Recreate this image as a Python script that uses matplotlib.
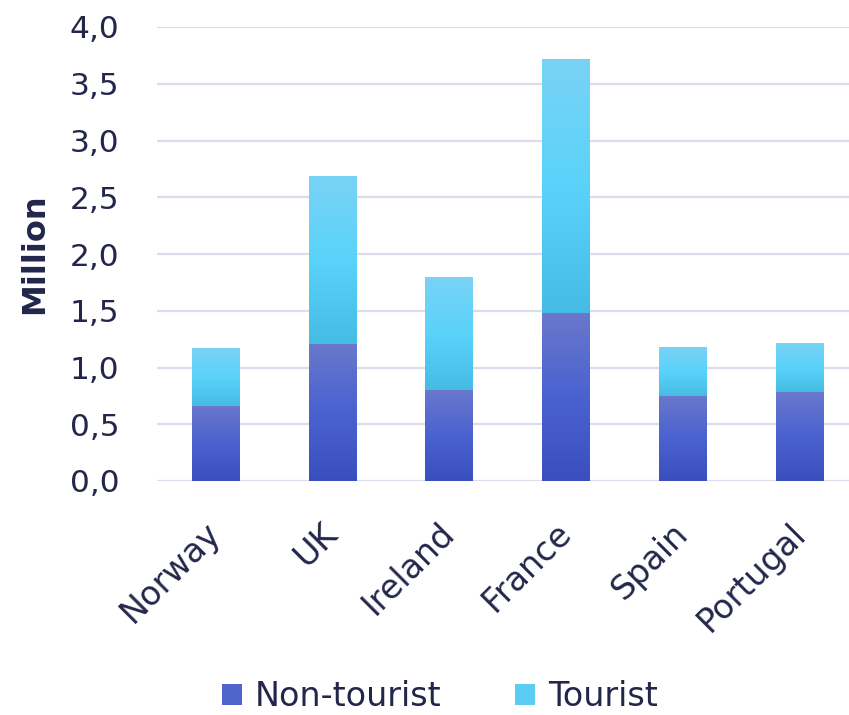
import matplotlib.pyplot as plt
import numpy as np
from matplotlib.colors import LinearSegmentedColormap
from matplotlib.patches import Patch

plt.rcParams['font.family'] = ['DejaVu Sans']

countries = ["Norway", "UK", "Ireland", "France", "Spain", "Portugal"]
non_tourist = [0.66, 1.21, 0.80, 1.48, 0.75, 0.78]
tourist = [0.51, 1.48, 1.00, 2.24, 0.43, 0.44]
yticks = [0.0, 0.5, 1.0, 1.5, 2.0, 2.5, 3.0, 3.5, 4.0]

text_col = '#22264a'
cmap_non = LinearSegmentedColormap.from_list('non', ['#3a4fbd', '#4a62d0', '#6a78cc'])
cmap_tour = LinearSegmentedColormap.from_list('tour', ['#44bce3', '#5ad3fa', '#79d2f5'])

fig = plt.figure(figsize=(8.49, 7.15), dpi=100)
ax = fig.add_axes([157 / 849, 1 - 481 / 715, 692 / 849, 454 / 715])

x = np.arange(len(countries))
width = 0.41
bars1 = ax.bar(x, non_tourist, width, color='none', zorder=3)
bars2 = ax.bar(x, tourist, width, bottom=non_tourist, color='none', zorder=3)

# gradient fill inside each bar segment
grad = np.linspace(0, 1, 256).reshape(-1, 1)
for bars, cmap in ((bars1, cmap_non), (bars2, cmap_tour)):
    for b in bars:
        x0, y0 = b.get_x(), b.get_y()
        w, h = b.get_width(), b.get_height()
        im = ax.imshow(grad, cmap=cmap, aspect='auto', origin='lower',
                       extent=(x0, x0 + w, y0, y0 + h), zorder=3)
        im.set_clip_path(b)

ax.set_xlim(-0.5, 5.415)
ax.set_ylim(0, 4.0)
ax.set_yticks(yticks)
ax.set_yticklabels([f"{v:.1f}".replace('.', ',') for v in yticks],
                   fontsize=22.5, color=text_col)
ax.set_xticks(x)
ax.set_xticklabels(countries, rotation=45, ha='right', va='center',
                   rotation_mode='anchor', fontsize=24, color=text_col)
ax.tick_params(axis='both', length=0)
ax.tick_params(axis='y', pad=27)
ax.tick_params(axis='x', pad=34)
ax.grid(axis='y', color='#dcdcec', linewidth=1.6, zorder=0)
for s in ax.spines.values():
    s.set_visible(False)
ax.set_ylabel('Million', fontsize=23, fontweight='bold', color=text_col, labelpad=14)

handles = [Patch(facecolor='#4f63cc', label='Non-tourist'),
           Patch(facecolor='#5ccdf2', label='Tourist')]
fig.legend(handles=handles, loc='center', bbox_to_anchor=(440 / 849, 1 - 697 / 715),
           ncol=2, frameon=False, fontsize=24, labelcolor=text_col,
           handlelength=0.6, handleheight=0.6, handletextpad=0.4, columnspacing=2.2)

fig.savefig('out.png', dpi=100)
